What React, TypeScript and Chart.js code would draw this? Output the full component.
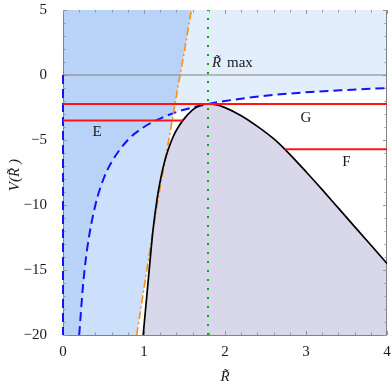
import React, { useEffect, useRef } from "react";
import { Chart, registerables } from "chart.js";

Chart.register(...registerables);

// ---------- values ----------
const potentialR = [0.99, 1.03, 1.07, 1.11, 1.16, 1.2, 1.25, 1.3, 1.36, 1.4, 1.48, 1.6, 1.7, 1.79, 1.9, 2.0, 2.2, 2.4, 2.6, 2.74, 3.0, 3.2, 3.4, 3.6, 3.8, 4.0];
const potentialV = [-20, -17.3, -14.6, -12.0, -9.6, -8.16, -6.76, -5.71, -4.75, -4.25, -3.49, -2.68, -2.33, -2.23, -2.31, -2.51, -3.13, -3.95, -4.9, -5.72, -7.44, -8.82, -10.24, -11.66, -13.08, -14.5];

const dashedR = [0.2, 0.25, 0.3, 0.4, 0.5, 0.6, 0.8, 1.0, 1.2, 1.4, 1.6, 1.8, 2.0, 2.5, 3.0, 3.5, 4.0];
const dashedV = [-20, -16, -13.3, -10, -8, -6.7, -5, -4, -3.35, -2.85, -2.5, -2.22, -2.0, -1.6, -1.33, -1.15, -1.0];

const asymptoteR = [0, 0];
const asymptoteV = [0, -20];

const orangeR = [0.91, 1.0, 1.1, 1.2, 1.3, 1.4, 1.5, 1.585];
const orangeV = [-20, -16.4, -12.4, -8.6, -5.2, -1.6, 1.9, 5];

const rMax = 1.79;
const zeroV = 0;

const levelNames = ["E", "G", "F"];
const levelV = [-3.5, -2.23, -5.72];
const levelFrom = [0, 0, 2.74];
const levelTo = [1.48, 4, 4];
const labelR = [0.42, 3.0, 3.5];
const labelV = [-4.4, -3.3, -6.7];

const rMaxLabelR = 1.84;
const rMaxLabelV = 0.6;

const xTickValues = [0, 1, 2, 3, 4];
const yTickValues = [-20, -15, -10, -5, 0, 5];
const xMinorTicks = [0.2, 0.4, 0.6, 0.8, 1.2, 1.4, 1.6, 1.8, 2.2, 2.4, 2.6, 2.8, 3.2, 3.4, 3.6, 3.8];
const yMinorTicks = [-19, -18, -17, -16, -14, -13, -12, -11, -9, -8, -7, -6, -4, -3, -2, -1, 1, 2, 3, 4];

// ---------- styles ----------
const SERIF = "'Liberation Serif', 'DejaVu Serif', serif";
const C_LIGHTEST = "rgb(227,238,252)";
const C_DARK = "rgb(185,211,248)";
const C_LIGHT = "rgb(204,224,251)";
const C_GRAY = "rgb(217,216,234)";
const C_FRAME = "rgb(130,130,130)";

const pts = (xs: number[], ys: number[]) => xs.map((x, i) => ({ x, y: ys[i] }));
const fmt = (v: number) => (v < 0 ? "\u2212" + Math.abs(v) : String(v));

const IDX_POT = 0, IDX_ORANGE = 1, IDX_DASHED = 2;

const regionsPlugin = {
  id: "regions",
  beforeDatasetsDraw(chart: any) {
    const { ctx, chartArea: a, scales } = chart;
    const xs = scales.x, ys = scales.y;
    const lineEl = (i: number) => {
      const el = chart.getDatasetMeta(i).dataset;
      el.updateControlPoints(a, "x");
      return el;
    };
    const pot = lineEl(IDX_POT);
    const orange = lineEl(IDX_ORANGE);
    const dashed = lineEl(IDX_DASHED);

    const belowDashed = () => {
      ctx.beginPath();
      dashed.path(ctx);
      ctx.lineTo(xs.getPixelForValue(dashedR[dashedR.length - 1]) + 2, ys.getPixelForValue(dashedV[dashedV.length - 1]));
      ctx.lineTo(xs.getPixelForValue(dashedR[dashedR.length - 1]) + 2, a.bottom + 2);
      ctx.lineTo(xs.getPixelForValue(dashedR[0]), a.bottom + 2);
      ctx.closePath();
    };

    ctx.save();
    ctx.beginPath();
    ctx.rect(a.left, a.top, a.right - a.left, a.bottom - a.top);
    ctx.clip();
    ctx.fillStyle = C_LIGHTEST;
    ctx.fillRect(a.left, a.top, a.right - a.left, a.bottom - a.top);
    belowDashed();
    ctx.fillStyle = "#ffffff";
    ctx.fill();

    // left of the orange curve
    ctx.save();
    ctx.beginPath();
    orange.path(ctx);
    ctx.lineTo(xs.getPixelForValue(orangeR[orangeR.length - 1]), a.top - 2);
    ctx.lineTo(a.left - 2, a.top - 2);
    ctx.lineTo(a.left - 2, a.bottom + 2);
    ctx.lineTo(xs.getPixelForValue(orangeR[0]), a.bottom + 2);
    ctx.closePath();
    ctx.clip();
    ctx.fillStyle = C_DARK;
    ctx.fillRect(a.left, a.top, a.right - a.left, a.bottom - a.top);
    belowDashed();
    ctx.fillStyle = C_LIGHT;
    ctx.fill();
    ctx.restore();

    // below the potential
    ctx.beginPath();
    pot.path(ctx);
    ctx.lineTo(xs.getPixelForValue(potentialR[potentialR.length - 1]) + 2, ys.getPixelForValue(potentialV[potentialV.length - 1]));
    ctx.lineTo(xs.getPixelForValue(potentialR[potentialR.length - 1]) + 2, a.bottom + 2);
    ctx.lineTo(xs.getPixelForValue(potentialR[0]), a.bottom + 2);
    ctx.closePath();
    ctx.fillStyle = C_GRAY;
    ctx.fill();
    ctx.restore();

    // frame
    ctx.save();
    ctx.strokeStyle = C_FRAME;
    ctx.lineWidth = 1;
    ctx.beginPath();
    ctx.moveTo(a.left + 0.5, a.top);
    ctx.lineTo(a.left + 0.5, a.bottom + 0.5);
    ctx.lineTo(a.right - 0.5, a.bottom + 0.5);
    ctx.lineTo(a.right - 0.5, a.top);
    ctx.stroke();
    // inner ticks
    ctx.strokeStyle = "rgb(150,150,150)";
    ctx.beginPath();
    const xt = (v: number, len: number) => {
      const p = Math.round(xs.getPixelForValue(v)) + 0.5;
      ctx.moveTo(p, a.bottom); ctx.lineTo(p, a.bottom - len);
      ctx.moveTo(p, a.top); ctx.lineTo(p, a.top + len);
    };
    const yt = (v: number, len: number) => {
      const p = Math.round(ys.getPixelForValue(v)) + 0.5;
      ctx.moveTo(a.left, p); ctx.lineTo(a.left + len, p);
      ctx.moveTo(a.right, p); ctx.lineTo(a.right - len, p);
    };
    xTickValues.forEach((v) => xt(v, 4));
    xMinorTicks.forEach((v) => xt(v, 2.5));
    yTickValues.forEach((v) => yt(v, 4));
    yMinorTicks.forEach((v) => yt(v, 2.5));
    ctx.stroke();
    ctx.restore();
  },
  afterDraw(chart: any) {
    const { ctx, scales } = chart;
    const xs = scales.x, ys = scales.y;
    ctx.save();
    ctx.fillStyle = "#1a1a1a";
    ctx.textAlign = "center";
    ctx.textBaseline = "middle";
    ctx.font = `15px ${SERIF}`;
    levelNames.forEach((n, i) => {
      ctx.fillText(n, xs.getPixelForValue(labelR[i]), ys.getPixelForValue(labelV[i]));
    });
    // R max label
    ctx.textAlign = "left";
    ctx.textBaseline = "alphabetic";
    const lx = xs.getPixelForValue(rMaxLabelR);
    const ly = ys.getPixelForValue(rMaxLabelV);
    ctx.font = `italic 15px ${SERIF}`;
    ctx.fillText("R\u0303", lx, ly);
    ctx.font = `15px ${SERIF}`;
    ctx.fillText("max", lx + 15, ly);
    // axis titles
    ctx.font = `italic 15px ${SERIF}`;
    ctx.textAlign = "center";
    ctx.fillText("R\u0303", xs.getPixelForValue(2), 381);
    ctx.translate(15, ys.getPixelForValue(-7.7));
    ctx.rotate(-Math.PI / 2);
    ctx.textBaseline = "middle";
    ctx.fillText("V(R\u0303 )", 0, 0);
    ctx.restore();
  },
};

export default function App() {
  const ref = useRef<HTMLCanvasElement | null>(null);
  useEffect(() => {
    if (!ref.current) return;
    const base = { pointRadius: 0, pointHoverRadius: 0, fill: false, showLine: true };
    const levelSets = levelNames.map((n, i) => ({
      ...base,
      label: n,
      data: pts([levelFrom[i], levelTo[i]], [levelV[i], levelV[i]]),
      borderColor: "rgb(255,20,20)",
      borderWidth: 2,
      order: 1,
    }));
    const chart = new Chart(ref.current, {
      type: "line",
      data: {
        datasets: [
          { ...base, label: "V", data: pts(potentialR, potentialV), borderColor: "#000", borderWidth: 1.7, cubicInterpolationMode: "monotone", order: 3 },
          { ...base, label: "orange", data: pts(orangeR, orangeV), borderColor: "rgb(255,140,20)", borderWidth: 1.6, borderDash: [8, 3, 2, 3], cubicInterpolationMode: "monotone", order: 4 },
          { ...base, label: "dashed", data: pts(dashedR, dashedV), borderColor: "rgb(20,20,240)", borderWidth: 2, borderDash: [9, 5], cubicInterpolationMode: "monotone", order: 5 },
          { ...base, label: "asym", data: pts(asymptoteR, asymptoteV), borderColor: "rgb(20,20,240)", borderWidth: 2, borderDash: [9, 5], order: 5, clip: 4 },
          { ...base, label: "zero", data: pts([0, 4], [zeroV, zeroV]), borderColor: "rgb(128,128,128)", borderWidth: 1, order: 9 },
          { ...base, label: "rmax", data: pts([rMax, rMax], [-20, 5]), borderColor: "rgb(0,175,0)", borderWidth: 2, borderDash: [2, 7], order: 0 },
          ...levelSets,
        ] as any,
      },
      options: {
        animation: false,
        responsive: false,
        devicePixelRatio: 1,
        events: [],
        layout: { padding: { left: 0, top: 10, right: 5, bottom: 0 } },
        plugins: { legend: { display: false }, tooltip: { enabled: false } },
        scales: {
          x: {
            type: "linear",
            min: 0,
            max: 4,
            grid: { display: false },
            border: { display: false },
            afterBuildTicks: (s: any) => { s.ticks = xTickValues.map((v) => ({ value: v })); },
            afterFit: (s: any) => { s.height = 53; s.paddingLeft = 0; s.paddingRight = 0; },
            ticks: { font: { family: SERIF, size: 15 }, color: "#1a1a1a", padding: 0, maxRotation: 0, callback: (v: any) => fmt(Number(v)) },
          },
          y: {
            type: "linear",
            min: -20,
            max: 5,
            grid: { display: false },
            border: { display: false },
            afterBuildTicks: (s: any) => { s.ticks = yTickValues.map((v) => ({ value: v })); },
            afterFit: (s: any) => { s.width = 63; s.paddingTop = 0; s.paddingBottom = 0; },
            ticks: { font: { family: SERIF, size: 15 }, color: "#1a1a1a", padding: 8, callback: (v: any) => fmt(Number(v)) },
          },
        },
      } as any,
      plugins: [regionsPlugin],
    });
    return () => chart.destroy();
  }, []);
  return (
    <div style={{ position: "absolute", left: 0, top: 0, width: 392, height: 388 }}>
      <canvas ref={ref} width={392} height={388} style={{ display: "block", width: 392, height: 388 }} />
    </div>
  );
}
